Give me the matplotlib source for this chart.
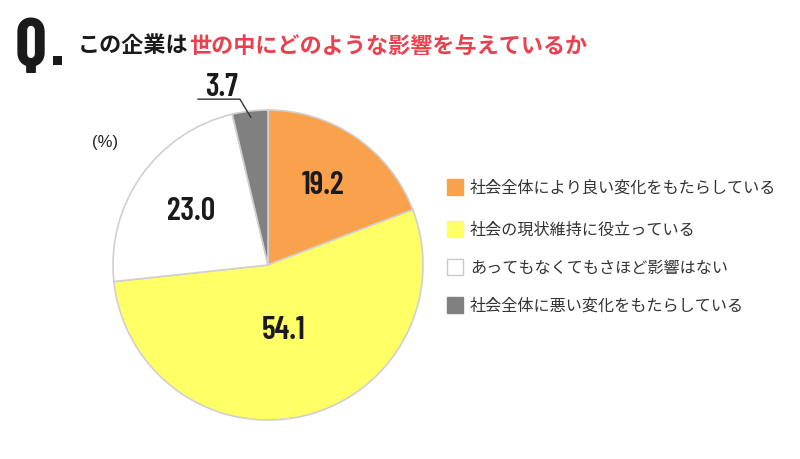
import matplotlib as mpl
import matplotlib.pyplot as plt
import numpy as np

mpl.rcParams['font.family'] = ['Noto Sans CJK JP', 'DejaVu Sans']

labels = ['社会全体により良い変化をもたらしている',
          '社会の現状維持に役立っている',
          'あってもなくてもさほど影響はない',
          '社会全体に悪い変化をもたらしている']
values = [19.2, 54.1, 23.0, 3.7]
colors = ['#F9A24B', '#FFFF66', '#FFFFFF', '#808080']
title_black = 'この企業は'
title_red = '世の中にどのような影響を与えているか'

NUM_FONT = ['Barlow Condensed', 'DejaVu Sans']
W, H = 800, 460

fig = plt.figure(figsize=(W / 100, H / 100), dpi=100)

# pie centre (268, 266) px, radius 155 px
cx, cy, r = 268, 266, 155
ax = fig.add_axes([(cx - r) / W, (H - cy - r) / H, 2 * r / W, 2 * r / H])
wedges, _ = ax.pie(values, colors=colors, startangle=90, counterclock=False,
                   wedgeprops=dict(edgecolor='#D0D0D0', linewidth=1.2))
ax.set_xlim(-1, 1)
ax.set_ylim(-1, 1)
ax.set_aspect('equal')
ax.axis('off')

# value labels inside the wedges
dists = [0.63, 0.43, 0.61]
for w, v, d in zip(wedges[:3], values[:3], dists):
    ang = np.deg2rad((w.theta1 + w.theta2) / 2)
    ax.text(d * np.cos(ang), d * np.sin(ang), f'{v:.1f}', ha='center', va='center',
            fontsize=23, fontweight=600, family=NUM_FONT, color='#1a1a1a')

# small slice: leader line
w = wedges[3]
ang = np.deg2rad((w.theta1 + w.theta2) / 2)
p0 = (0.96 * np.cos(ang), 0.96 * np.sin(ang))
elbow = (p0[0] - 0.07, 1.07)
end = (elbow[0] - 0.27, 1.07)
ax.plot([p0[0], elbow[0], end[0]], [p0[1], elbow[1], end[1]],
        color='#333333', lw=1, clip_on=False)
ax.text((elbow[0] + end[0]) / 2 + 0.015, 1.095, f'{values[3]:.1f}', ha='center', va='baseline',
        fontsize=23, fontweight=600, family=NUM_FONT, color='#1a1a1a')

# (%)
fig.text(105 / W, 1 - 143 / H, '(%)', ha='center', va='center', fontsize=12,
         family=['Liberation Sans', 'DejaVu Sans'], color='#222222')

# legend
rows = [188, 230, 268, 306]
for lab, col, y in zip(labels, colors, rows):
    fig.patches.append(mpl.patches.Rectangle((447 / W, 1 - (y + 8) / H), 16 / W, 16 / H,
                                             transform=fig.transFigure, facecolor=col,
                                             edgecolor='#C8C8C8' if col == '#FFFFFF' else col,
                                             lw=1))
    fig.text(470 / W, 1 - y / H, lab, ha='left', va='center', fontsize=11.6, color='#333333')

# title
fig.text(15 / W, 1 - 66 / H, 'Q', ha='left', va='baseline', fontsize=50,
         fontweight=700, family=NUM_FONT, color='#1a1a1a')
fig.patches.append(mpl.patches.Rectangle((53 / W, 1 - 66 / H), 9 / W, 9 / H,
                                         transform=fig.transFigure, facecolor='#1a1a1a',
                                         edgecolor='none'))
t1 = fig.text(78 / W, 1 - 46 / H, title_black, ha='left', va='center', fontsize=15.9,
              fontweight='bold', color='#1a1a1a')
fig.canvas.draw()
bb = t1.get_window_extent()
fig.text(bb.x1 / W, 1 - 46 / H, title_red, ha='left', va='center', fontsize=15.9,
         fontweight='bold', color='#E8414F')

fig.savefig('out.png', dpi=100)
